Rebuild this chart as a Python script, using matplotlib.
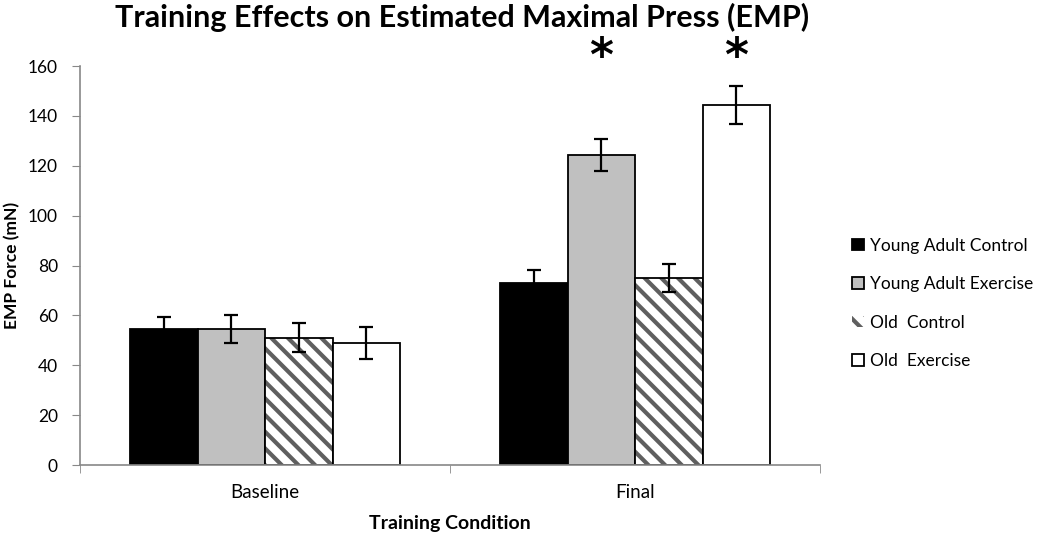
import numpy as np
import matplotlib
matplotlib.use("Agg")
import matplotlib.pyplot as plt

# data
conditions = ["Baseline", "Final"]
groups = ["Young Adult Control", "Young Adult Exercise", "Old  Control", "Old  Exercise"]
means = [
    [54.5, 73.0],    # young adult control
    [54.5, 124.5],   # young adult exercise
    [51.0, 75.0],    # old control
    [49.0, 144.5],   # old exercise
]
errors = [
    [4.8, 5.2],
    [5.6, 6.4],
    [5.8, 5.8],
    [6.5, 7.6],
]
significant = [(1, 1), (1, 3)]  # (condition index, group index) marked with *

plt.rcParams['font.family'] = ['Lato', 'DejaVu Sans']
plt.rcParams['hatch.linewidth'] = 3.0

fig = plt.figure(figsize=(10.5, 5.37), dpi=100)
ax = fig.add_axes([0.0762, 0.134, 0.705, 0.743])

fills = ['black', '#c0c0c0', 'white', 'white']

x = np.arange(len(conditions))
w = 0.1824
for i, g in enumerate(groups):
    pos = x + (i - 1.5) * w
    if i == 2:
        # hatch drawn in grey, outline in black on top
        ax.bar(pos, means[i], w, color='white', edgecolor='#5f5f5f',
               hatch='\\\\', linewidth=0, label=g)
        ax.bar(pos, means[i], w, fill=False, edgecolor='black', linewidth=1.3)
    else:
        ax.bar(pos, means[i], w, color=fills[i], edgecolor='black',
               linewidth=1.3, label=g)
    ax.errorbar(pos, means[i], yerr=errors[i], fmt='none', ecolor='black',
                elinewidth=1.6, capsize=5, capthick=1.6)

for c, g in significant:
    ax.text(x[c] + (g - 1.5) * w, 163, '*', ha='center', va='center',
            fontsize=33, fontweight='bold', family='DejaVu Sans')

ax.set_xlim(-0.5, 1.5)
ax.set_ylim(0, 160)
ax.set_yticks(range(0, 161, 20))
ax.set_xticks(x)
ax.set_xticklabels(conditions)
ax.set_xticks([-0.5, 0.5, 1.5], minor=True)
ax.tick_params(axis='x', which='major', length=0, pad=14, labelsize=13.5)
ax.tick_params(axis='x', which='minor', length=6, color='#888888')
ax.tick_params(axis='y', length=6, color='#888888', labelsize=12.5, pad=10)

for s in ['top', 'right']:
    ax.spines[s].set_visible(False)
for s in ['left', 'bottom']:
    ax.spines[s].set_color('#888888')
    ax.spines[s].set_linewidth(1.2)

ax.set_ylabel('EMP Force (mN)', fontweight='bold', fontsize=12.5, labelpad=5)
ax.set_xlabel('Training Condition', fontweight='bold', fontsize=14, labelpad=10)
fig.suptitle('Training Effects on Estimated Maximal Press (EMP)',
             fontweight='bold', fontsize=22, x=0.44, y=0.995, va='top')

ax.legend(loc='center left', bbox_to_anchor=(1.043, 0.405), frameon=False,
          borderaxespad=0, borderpad=0,
          fontsize=12.5, handlelength=0.66, handleheight=0.66,
          handletextpad=0.35, labelspacing=1.3)

fig.savefig('out.png', dpi=100)
